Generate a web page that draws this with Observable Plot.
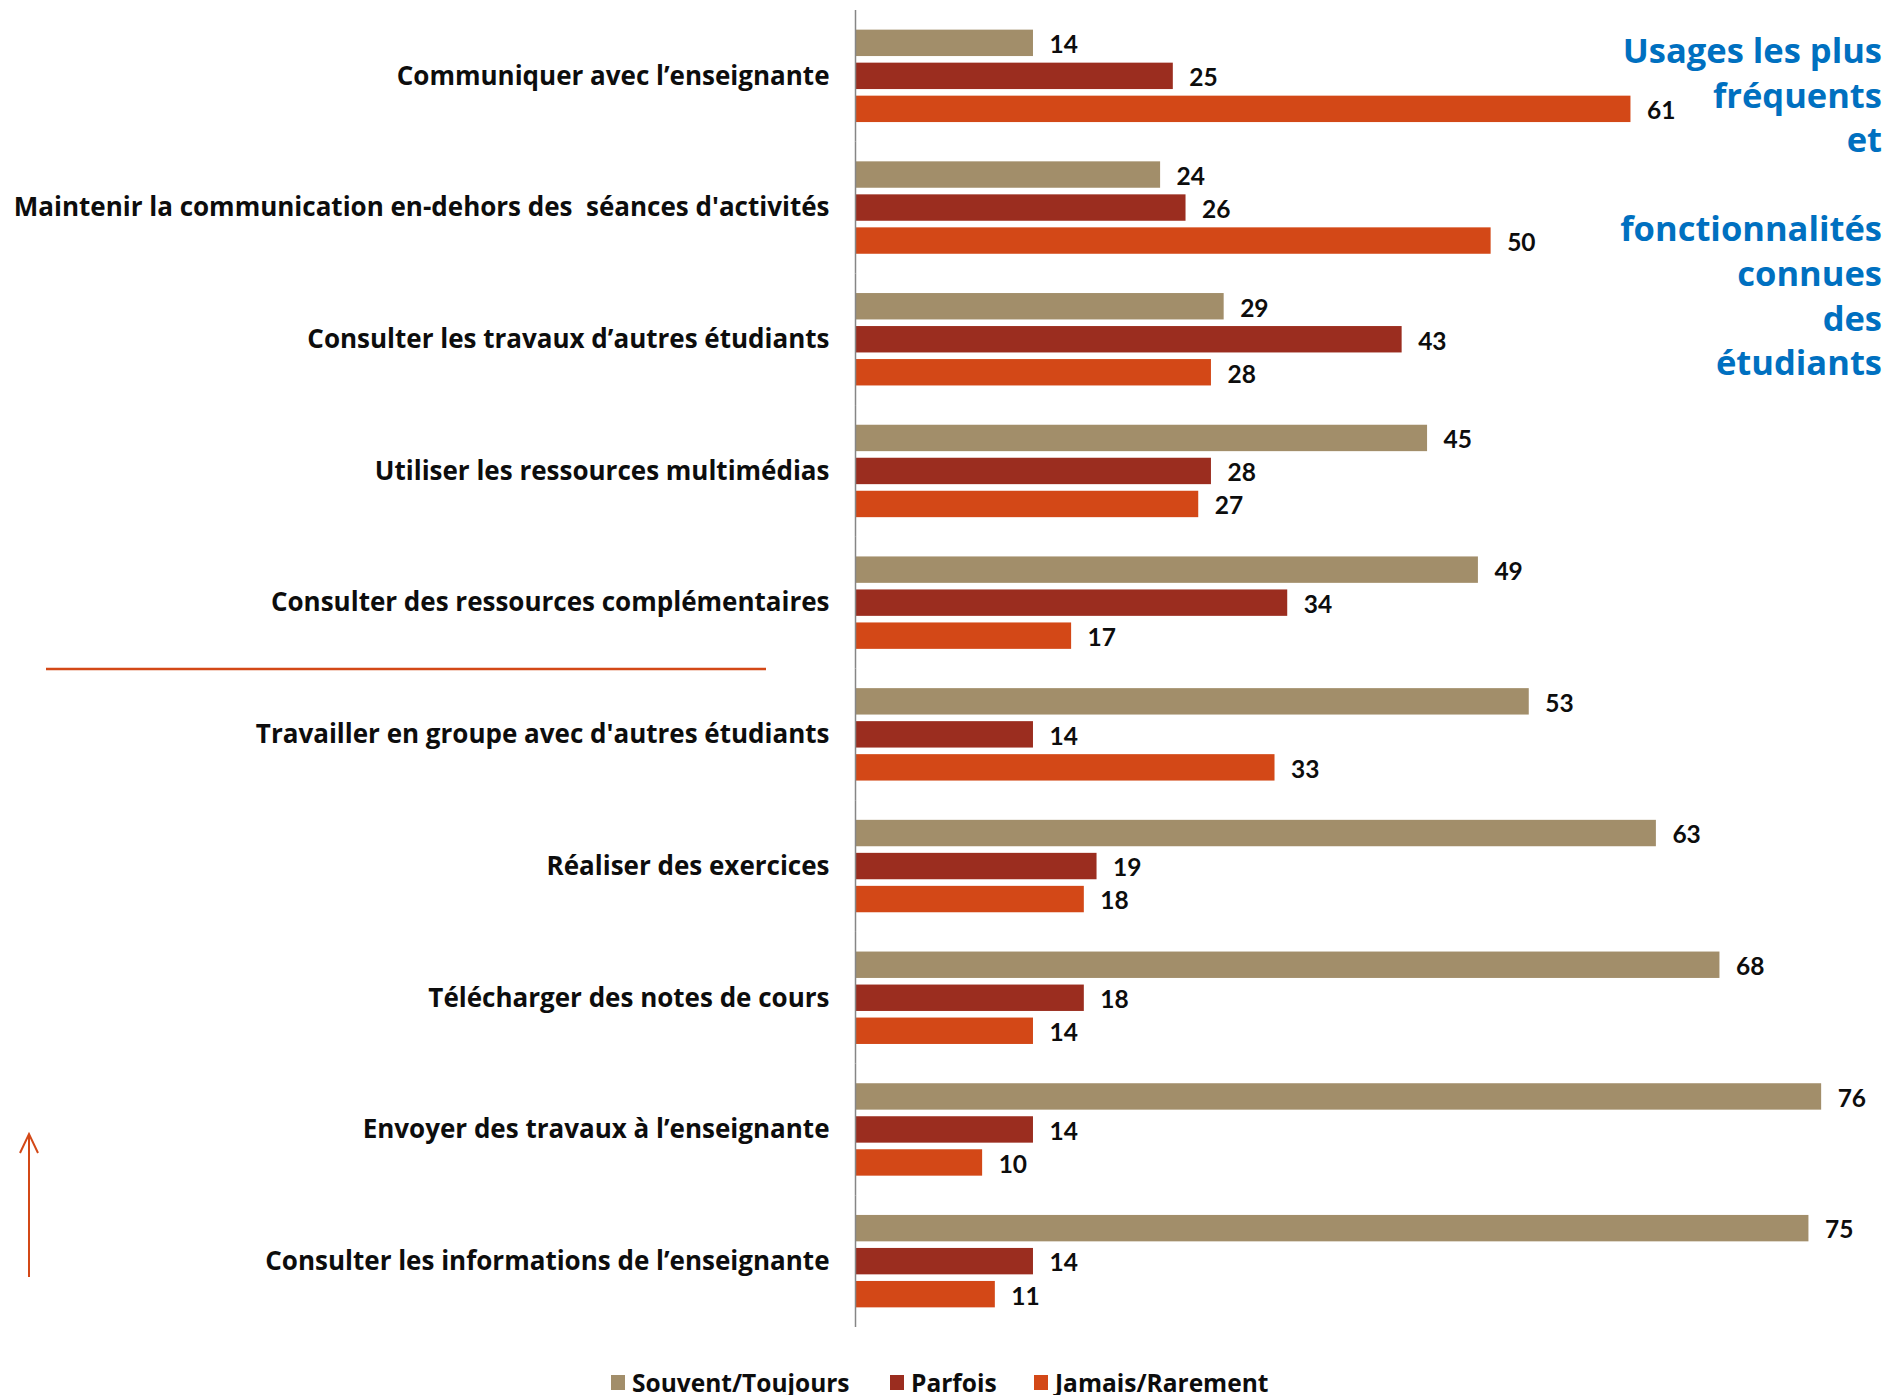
<!DOCTYPE html>
<html>
<head>
<meta charset="utf-8">
<script src="https://cdn.jsdelivr.net/npm/d3@7"></script>
<script src="https://cdn.jsdelivr.net/npm/@observablehq/plot@0.6"></script>
<style>
  html, body { margin: 0; padding: 0; background: #fff; }
  body { width: 1889px; height: 1395px; position: relative; overflow: hidden; font-family: "Open Sans", Lato, sans-serif; }
  #chart svg { display: block; }
  #chart g[aria-label^="fy-axis"] text { font-family: "Open Sans", sans-serif; font-size: 26px; font-weight: bold; fill: #0d0d0d; white-space: pre; }
  #note { position: absolute; right: 7px; top: 28px; width: 400px; color: #0070C0; font-weight: bold; font-size: 34.5px; }
  #note div { height: 44.6px; line-height: 44.6px; text-align: right; white-space: pre; }
  #note span { display: inline-block; }
  #legend { position: absolute; left: 0; top: 1340px; width: 1889px; height: 55px; }
  .item { position: absolute; top: 22px; display: flex; align-items: center; font-size: 24.5px; font-weight: bold; color: #0d0d0d; height: 40px; }
  .sw { width: 14px; height: 15px; margin-right: 7px; }
  #deco { position: absolute; left: 0; top: 0; pointer-events: none; }
</style>
</head>
<body>
<div id="chart"></div>
<div id="note"></div>
<div id="legend"></div>
<svg id="deco" width="1889" height="1395">
  <line x1="46" y1="669" x2="766" y2="669" stroke="#D34817" stroke-width="2.5"/>
  <line x1="29" y1="1134" x2="29" y2="1277" stroke="#D34817" stroke-width="2"/>
  <polyline points="20,1153 29,1134 38,1153" fill="none" stroke="#D34817" stroke-width="2"/>
</svg>
<script>
const categories = [
  "Communiquer avec l’enseignante",
  "Maintenir la communication en-dehors des  séances d'activités",
  "Consulter les travaux d’autres étudiants",
  "Utiliser les ressources multimédias",
  "Consulter des ressources complémentaires",
  "Travailler en groupe avec d'autres étudiants",
  "Réaliser des exercices",
  "Télécharger des notes de cours",
  "Envoyer des travaux à l’enseignante",
  "Consulter les informations de l’enseignante"
];
const series = ["Souvent/Toujours", "Parfois", "Jamais/Rarement"];
const souvent = [14, 24, 29, 45, 49, 53, 63, 68, 76, 75];
const parfois = [25, 26, 43, 28, 34, 14, 19, 18, 14, 14];
const jamais  = [61, 50, 28, 27, 17, 33, 18, 14, 10, 11];
const colors = ["#A28E6A", "#9B2D1F", "#D34817"];
const noteLines = ["Usages les plus", "fréquents", "et", "", "fonctionnalités", "connues", "des", "étudiants"];

const values = [souvent, parfois, jamais];
const data = categories.flatMap((c, i) => series.map((s, j) => ({category: c, series: s, value: values[j][i]})));

const plot = Plot.plot({
  width: 1889,
  height: 1340,
  marginLeft: 855,
  marginRight: 17,
  marginTop: 0,
  marginBottom: 0,
  style: {fontFamily: "Lato, 'Open Sans', sans-serif", fontSize: "25px", color: "#0d0d0d", background: "#fff"},
  x: {domain: [0, 80], axis: null},
  y: {domain: series, axis: null, paddingInner: 0.2, paddingOuter: 0.595, round: false},
  fy: {domain: categories, range: [10, 1327], padding: 0, round: false, label: null, tickSize: 0, tickPadding: 26, axis: "left"},
  color: {domain: series, range: colors},
  marks: [
    Plot.barX(data, {fy: "category", y: "series", x: "value", fill: "series"}),
    Plot.text(data, {fy: "category", y: "series", x: "value", text: d => String(d.value), dx: 16, dy: 2, textAnchor: "start", fontSize: 24.5, fontWeight: "bold", fill: "#0d0d0d"}),
    Plot.ruleX([0], {stroke: "#868686", strokeWidth: 1.5})
  ]
});
document.getElementById("chart").appendChild(plot);

const note = document.getElementById("note");
noteLines.forEach(l => {
  const d = document.createElement("div");
  if (l) {
    const s = document.createElement("span");
    s.textContent = l;
    d.appendChild(s);
  }
  note.appendChild(d);
});

const legend = document.getElementById("legend");
const lefts = [611, 890, 1034];
series.forEach((s, i) => {
  const it = document.createElement("div");
  it.className = "item";
  it.style.left = lefts[i] + "px";
  const sw = document.createElement("span");
  sw.className = "sw";
  sw.style.background = colors[i];
  const tx = document.createElement("span");
  tx.textContent = s;
  it.appendChild(sw);
  it.appendChild(tx);
  legend.appendChild(it);
});
</script>
</body>
</html>
